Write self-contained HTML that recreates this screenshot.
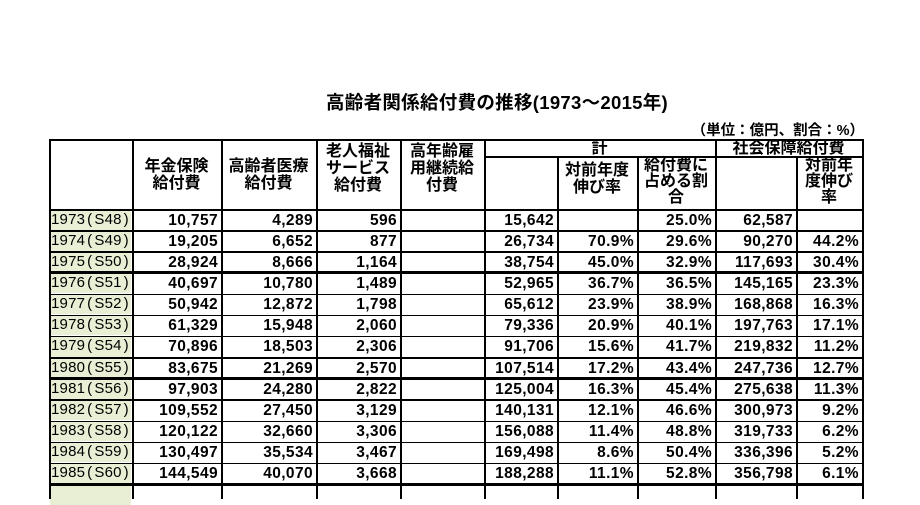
<!DOCTYPE html>
<html><head><meta charset="utf-8"><style>
body{margin:0;width:920px;height:488px;background:#fff;overflow:hidden;position:relative;font-family:"Liberation Sans","Noto Sans CJK JP",sans-serif;color:#000}
.a{position:absolute}
.t{left:0;width:994px;top:89px;text-align:center;font-size:18.5px;font-weight:bold;letter-spacing:0.3px}
.u{right:56px;top:119px;font-size:14.5px;font-weight:bold}
.v{position:absolute;background:#000;width:2px}
.h{position:absolute;background:#000;height:1.5px}
.c{position:absolute;font-size:15.5px;font-weight:bold;text-align:right;line-height:21px;letter-spacing:0.4px}
.y{position:absolute;left:50px;width:81px;background:#e9efd4;font-size:15px;line-height:20px;padding-left:1px;box-sizing:border-box;white-space:nowrap;letter-spacing:0.2px}
.y span{padding:0 2px}
.hd{position:absolute;font-size:16px;font-weight:bold;text-align:center;line-height:17px}
</style></head><body>
<div class="a t">高齢者関係給付費の推移(1973～2015年)</div>
<div class="a u">（単位：億円、割合：%）</div>

<div class="hd" style="left:132px;width:89px;top:158px">年金保険<br>給付費</div>
<div class="hd" style="left:221px;width:95px;top:158px">高齢者医療<br>給付費</div>
<div class="hd" style="left:316px;width:84px;top:143px">老人福祉<br>サービス<br>給付費</div>
<div class="hd" style="left:400px;width:84px;top:143px">高年齢雇<br>用継続給<br>付費</div>
<div class="hd" style="left:484px;width:231px;top:140px">計</div>
<div class="hd" style="left:557px;width:80px;top:162px">対前年度<br>伸び率</div>
<div class="hd" style="left:637px;width:78px;top:158px;line-height:16px">給付費に<br>占める割<br>合</div>
<div class="hd" style="left:715px;width:147px;top:140px">社会保障給付費</div>
<div class="hd" style="left:796px;width:66px;top:158px;line-height:16px">対前年<br>度伸び<br>率</div>

<div id="rows"></div>
<script>
var d=[["1973(S48)","10,757","4,289","596","15,642","","25.0%","62,587",""],
["1974(S49)","19,205","6,652","877","26,734","70.9%","29.6%","90,270","44.2%"],
["1975(S50)","28,924","8,666","1,164","38,754","45.0%","32.9%","117,693","30.4%"],
["1976(S51)","40,697","10,780","1,489","52,965","36.7%","36.5%","145,165","23.3%"],
["1977(S52)","50,942","12,872","1,798","65,612","23.9%","38.9%","168,868","16.3%"],
["1978(S53)","61,329","15,948","2,060","79,336","20.9%","40.1%","197,763","17.1%"],
["1979(S54)","70,896","18,503","2,306","91,706","15.6%","41.7%","219,832","11.2%"],
["1980(S55)","83,675","21,269","2,570","107,514","17.2%","43.4%","247,736","12.7%"],
["1981(S56)","97,903","24,280","2,822","125,004","16.3%","45.4%","275,638","11.3%"],
["1982(S57)","109,552","27,450","3,129","140,131","12.1%","46.6%","300,973","9.2%"],
["1983(S58)","120,122","32,660","3,306","156,088","11.4%","48.8%","319,733","6.2%"],
["1984(S59)","130,497","35,534","3,467","169,498","8.6%","50.4%","336,396","5.2%"],
["1985(S60)","144,549","40,070","3,668","188,288","11.1%","52.8%","356,798","6.1%"],
["","","","","","","","",""]];
var L=[0,132,221,316,484,557,637,715,796],R=[0,221,316,400,557,637,715,796,862];
var h="",top0=209,rh=21.15;
for(var i=0;i<d.length;i++){var t=top0+i*rh;
 var y=d[i][0]?d[i][0].slice(0,4)+'<span>(</span>'+d[i][0].slice(5,8)+'<span>)</span>':'';
 h+='<div class="y" style="top:'+(t+0.5)+'px;height:'+(rh-1)+'px">'+y+'</div>';
 for(var j=1;j<9;j++){var l=L[j],r=R[j];
  h+='<div class="c" style="top:'+(t+0.5)+'px;left:'+l+'px;width:'+(r-l-3)+'px">'+d[i][j]+'</div>';}
 var th=(i==3||i==8||i==13)?3:1.5;
 h+='<div class="h" style="left:49px;width:815px;top:'+(t-(th>2?1:0))+'px;height:'+th+'px"></div>';}
h+='<div class="h" style="left:49px;width:815px;top:139px"></div>';
h+='<div class="h" style="left:484px;width:231px;top:156px"></div>';
h+='<div class="h" style="left:715px;width:149px;top:156px"></div>';
var vx=[49,132,221,316,400,484,715,862];
for(var k=0;k<vx.length;k++)h+='<div class="v" style="left:'+vx[k]+'px;top:139px;height:360px"></div>';
var vx2=[557,637,796];
for(var k=0;k<vx2.length;k++)h+='<div class="v" style="left:'+vx2[k]+'px;top:156px;height:343px"></div>';
document.getElementById("rows").innerHTML=h;
</script>
</body></html>
